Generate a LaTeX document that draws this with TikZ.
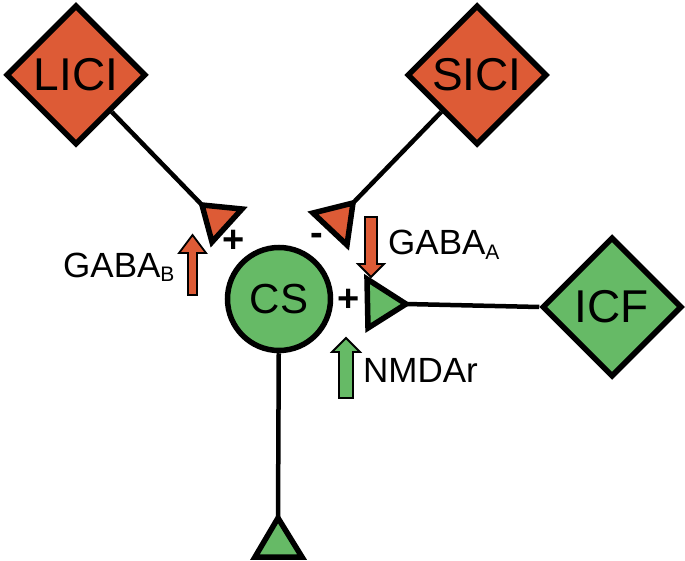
\documentclass[tikz,border=0pt]{standalone}
\usepackage{fontspec}
\setmainfont{Liberation Sans}
\usetikzlibrary{shapes.geometric}
\definecolor{rd}{HTML}{DD5B36}
\definecolor{gr}{HTML}{66BA66}
\tikzset{
  dia/.style={diamond,aspect=1,draw=black,line width=5.5pt,minimum size=140pt,inner sep=0pt,font=\fontsize{46}{46}\selectfont},
  conn/.style={line width=4.5pt,black},
  tri/.style={draw=black,line width=5.5pt,line join=miter},
  lbl/.style={inner sep=0pt,anchor=base west,font=\fontsize{35}{35}\selectfont},
  sgn/.style={inner sep=0pt,font=\bfseries\fontsize{38}{38}\selectfont},
  barrow/.style={draw=black,line width=1.8pt,line join=miter}
}
\newcommand{\subs}[1]{{\fontsize{21}{21}\selectfont\raisebox{-5pt}{#1}}}
\begin{document}
\begin{tikzpicture}[x=1pt,y=-1pt]
\useasboundingbox (0,0) rectangle (685,561);
% main nodes
\node[dia,fill=rd] (lici) at (76,75) {LICI};
\node[dia,fill=rd] (sici) at (477,75) {SICI};
\node[dia,fill=gr] (icf) at (612,307) {ICF};
\node[circle,draw=black,line width=5.5pt,fill=gr,minimum size=103pt,inner sep=0pt,font=\fontsize{42}{42}\selectfont] (cs) at (279,299) {CS};
% triangle vertices
\coordinate (la) at (202,205); \coordinate (lb) at (242,209); \coordinate (lc) at (212,242);
\coordinate (sa) at (353,203); \coordinate (sb) at (313,213); \coordinate (sc) at (347,245);
\coordinate (ia) at (406,304); \coordinate (ib) at (367,279); \coordinate (ic) at (368,328);
\coordinate (ba) at (278,518); \coordinate (bb) at (255,557); \coordinate (bc) at (302,557);
% connectors
\draw[conn] (lici) -- (la);
\draw[conn] (sici) -- (sa);
\draw[conn] (ia) -- (icf.west);
\draw[conn] (cs) -- (ba);
% triangles
\filldraw[tri,fill=rd] (la) -- (lb) -- (lc) -- cycle;
\filldraw[tri,fill=rd] (sa) -- (sb) -- (sc) -- cycle;
\filldraw[tri,fill=gr] (ia) -- (ib) -- (ic) -- cycle;
\filldraw[tri,fill=gr] (ba) -- (bb) -- (bc) -- cycle;
% signs
\node[sgn] (p1) at (234,241) {+};
\node[sgn] (m1) at (317,239) {-};
\node[sgn] (p2) at (349,300) {+};
% block arrows
\filldraw[barrow,fill=rd] (188,295) -- (188,253) -- (179,253) -- (192.5,235) -- (206,253) -- (197,253) -- (197,295) -- cycle;
\filldraw[barrow,fill=rd] (365,217) -- (365,264) -- (358,264) -- (371,277) -- (384,264) -- (377,264) -- (377,217) -- cycle;
\filldraw[barrow,fill=gr] (339,398) -- (339,352) -- (332,352) -- (346,338) -- (360,352) -- (353,352) -- (353,398) -- cycle;
% labels
\node[lbl] (gb) at (63,277) {GABA\subs{B}};
\node[lbl] (ga) at (388,255) {GABA\subs{A}};
\node[lbl] (nm) at (363,382) {NMDAr};
\end{tikzpicture}
\end{document}
